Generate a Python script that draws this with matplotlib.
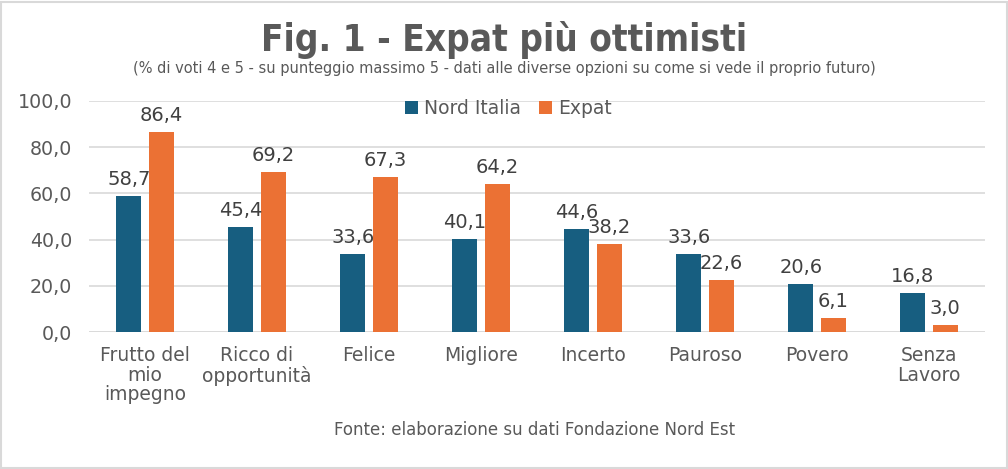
import matplotlib
matplotlib.use("Agg")
import matplotlib.pyplot as plt
import numpy as np
from matplotlib.patches import Rectangle

categories = ["Frutto del\nmio\nimpegno", "Ricco di\nopportunità", "Felice", "Migliore",
              "Incerto", "Pauroso", "Povero", "Senza\nLavoro"]
nord_italia = [58.7, 45.4, 33.6, 40.1, 44.6, 33.6, 20.6, 16.8]
expat = [86.4, 69.2, 67.3, 64.2, 38.2, 22.6, 6.1, 3.0]
series_names = ["Nord Italia", "Expat"]
yticks = [0, 20, 40, 60, 80, 100]

BLUE = "#175E80"
ORANGE = "#EB7134"
TXT = "#404040"

plt.rcParams['font.family'] = ['DejaVu Sans']
fig = plt.figure(figsize=(10.08, 4.69), dpi=100)
ax = fig.add_axes([89/1008, 1-332/469, (985-89)/1008, (332-101)/469])

x = np.arange(len(categories))
w = 0.22
off = 0.145
b1 = ax.bar(x - off, nord_italia, w, color=BLUE, label=series_names[0], zorder=3)
b2 = ax.bar(x + off, expat, w, color=ORANGE, label=series_names[1], zorder=3)

def fmt(v):
    return f"{v:.1f}".replace(".", ",")

for bars, vals in ((b1, nord_italia), (b2, expat)):
    for r, v in zip(bars, vals):
        ax.annotate(fmt(v), (r.get_x() + r.get_width()/2, v), xytext=(0, 5),
                    textcoords="offset points", ha="center", va="bottom",
                    fontsize=14, color=TXT, zorder=4)

ax.set_ylim(0, 100)
ax.set_xlim(-0.5, len(categories) - 0.5)
ax.set_yticks(yticks)
ax.set_yticklabels([fmt(t) for t in yticks], fontsize=13.7, color="#595959")
ax.set_xticks(x)
ax.set_xticklabels(categories, fontsize=13.5, color="#595959", linespacing=1.05)
ax.tick_params(axis="x", length=0, pad=10)
ax.tick_params(axis="y", length=0, pad=12)
ax.grid(axis="y", color="#D9D9D9", linewidth=1.2, zorder=0)
for s in ax.spines.values():
    s.set_visible(False)
ax.axhline(0, color="#D9D9D9", linewidth=1.2, zorder=1)

leg = ax.legend(loc="upper center", bbox_to_anchor=(0.468, 1.08), ncol=2, frameon=False,
                fontsize=13.5, handlelength=0.7, handleheight=0.7, columnspacing=1.0,
                handletextpad=0.3, labelcolor="#595959")

fig.text(0.5, 1-40/469, "Fig. 1 - Expat più ottimisti", ha="center", va="center",
         fontsize=26.5, fontweight="bold", color="#595959", fontstretch="condensed")
fig.text(0.5, 1-68/469,
         "(% di voti 4 e 5 - su punteggio massimo 5 - dati alle diverse opzioni su come si vede il proprio futuro)",
         ha="center", va="center", fontsize=10.5, color="#595959")
fig.text(535/1008, 1-430/469, "Fonte: elaborazione su dati Fondazione Nord Est",
         ha="center", va="center", fontsize=12, color="#595959")

fig.patches.append(Rectangle((1/1008, 1/469), 1006/1008, 466/469, transform=fig.transFigure,
                             fill=False, edgecolor="#D9D9D9", linewidth=1.5))

fig.savefig("out.png", dpi=100)
